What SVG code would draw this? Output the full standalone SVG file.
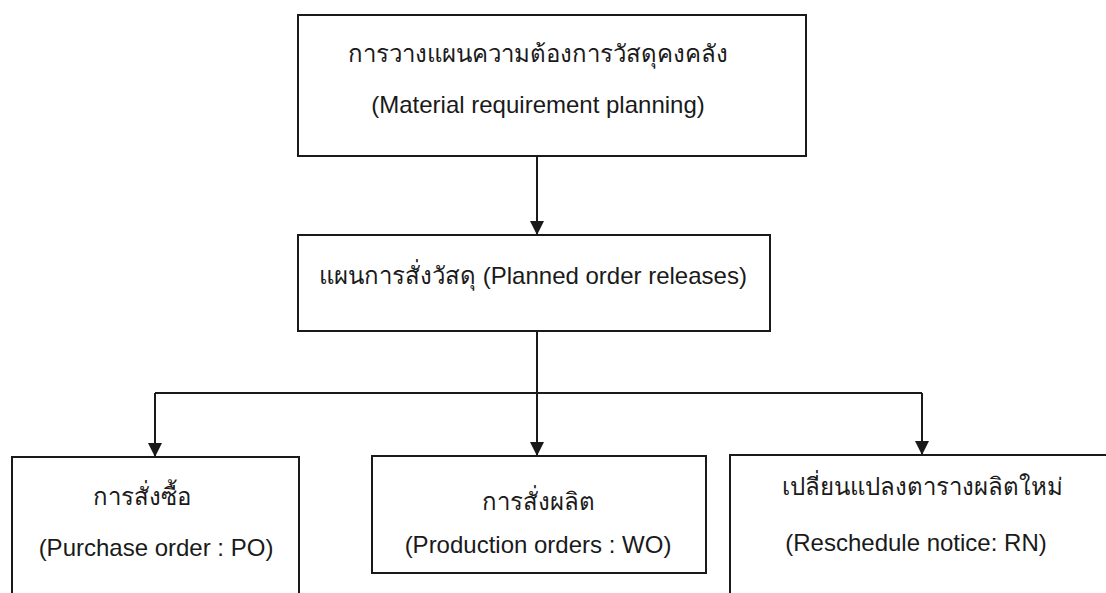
<svg xmlns="http://www.w3.org/2000/svg" width="1106" height="593" viewBox="0 0 1106 593">
<style>
.box{fill:#fff;stroke:#1a1a1a;stroke-width:2}
.ln{fill:none;stroke:#1a1a1a;stroke-width:2}
.t{font-family:"Liberation Sans",Arial,sans-serif;fill:#1a1a1a;text-anchor:middle;font-size:24px}
</style>
<defs>
<marker id="ah" viewBox="0 0 14 14" refX="14" refY="7" markerWidth="14" markerHeight="14" markerUnits="userSpaceOnUse" orient="auto">
<path d="M0,0 L14,7 L0,14 Z" fill="#1a1a1a"/>
</marker>
</defs>
<rect width="1106" height="593" fill="#fff"/>
<g id="connectors">
<line class="ln" x1="537" y1="156" x2="537" y2="235" marker-end="url(#ah)"/>
<line class="ln" x1="537" y1="331" x2="537" y2="456" marker-end="url(#ah)"/>
<polyline class="ln" points="155,393 922,393"/>
<line class="ln" x1="155" y1="393" x2="155" y2="457" marker-end="url(#ah)"/>
<line class="ln" x1="922" y1="393" x2="922" y2="455" marker-end="url(#ah)"/>
</g>
<g id="mrp">
<rect class="box" x="298" y="15" width="508" height="141"/>
<text class="t" x="538" y="62">การวางแผนความต้องการวัสดุคงคลัง</text>
<text class="t" x="538" y="113">(Material requirement planning)</text>
</g>
<g id="planned">
<rect class="box" x="298" y="235" width="472" height="96"/>
<text class="t" x="533" y="284">แผนการสั่งวัสดุ (Planned order releases)</text>
</g>
<g id="po">
<rect class="box" x="12" y="457" width="287" height="150"/>
<text class="t" x="142" y="505">การสั่งซื้อ</text>
<text class="t" x="156" y="556">(Purchase order : PO)</text>
</g>
<g id="wo">
<rect class="box" x="372" y="456" width="334" height="117"/>
<text class="t" x="538" y="510">การสั่งผลิต</text>
<text class="t" x="538" y="553">(Production orders : WO)</text>
</g>
<g id="rn">
<rect class="box" x="730" y="455" width="390" height="150"/>
<text class="t" x="922" y="495">เปลี่ยนแปลงตารางผลิตใหม่</text>
<text class="t" x="916" y="551">(Reschedule notice: RN)</text>
</g>
</svg>
